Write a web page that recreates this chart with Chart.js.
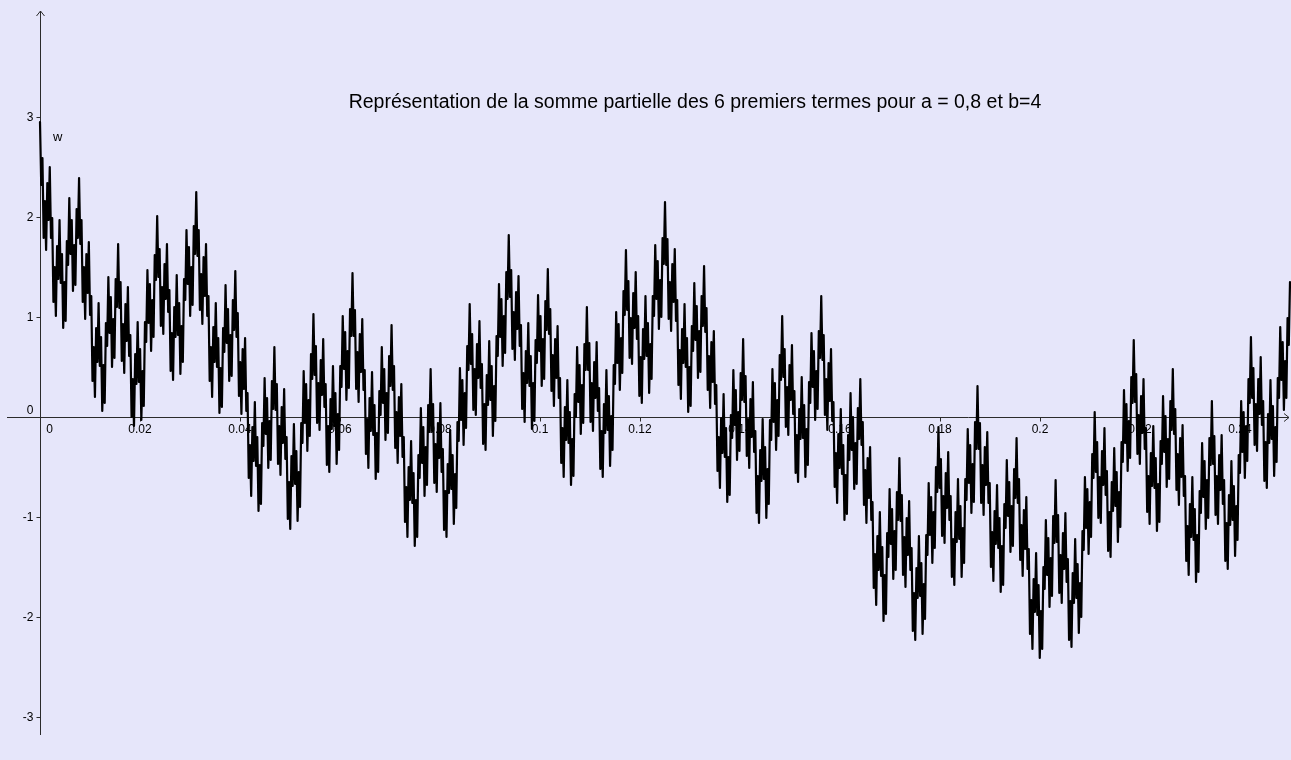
<!DOCTYPE html>
<html lang="fr">
<head>
<meta charset="utf-8">
<title>Somme partielle de la fonction de Weierstrass</title>
<script src="https://cdn.jsdelivr.net/npm/chart.js@4.4.1/dist/chart.umd.min.js"></script>
<style>
  html, body { margin: 0; padding: 0; background: #e6e6fa; overflow: hidden; }
  #wrap { width: 1291px; height: 760px; }
  canvas { display: block; }
</style>
</head>
<body>
<div id="wrap"><canvas id="plot" width="1291" height="760"></canvas></div>
<script>
// Partial sum w(x), sampled every 1/4096 on [0 ; 0.25], split in eight pieces of 128 samples.
const SAMPLE_START = 0;
const SAMPLE_STEP = 1 / 4096;

const wPart1 = [
  2.95,2.32,2.59,1.79,2.16,1.67,2.34,1.97,2.50,1.79,1.99,1.15,1.50,1.01,1.71,1.38,
  1.97,1.34,1.63,.89,1.35,.96,1.76,1.52,2.19,1.63,1.97,1.26,1.72,1.32,2.08,1.79,
  2.39,1.73,1.97,1.15,1.50,.98,1.63,1.24,1.75,1.02,1.21,.36,.70,.20,.89,.55,
  1.14,.51,.80,.06,.52,.14,.94,.71,1.40,.84,1.20,.50,.98,.59,1.38,1.10,
  1.73,1.09,1.35,.56,.93,.44,1.13,.76,1.30,.61,.82,.00,.38,-.09,.63,.33,
  .95,.35,.68,-.03,.46,.11,.95,.75,1.47,.94,1.33,.66,1.17,.80,1.62,1.37,
  2.01,1.40,1.68,.91,1.30,.83,1.53,1.18,1.73,1.05,1.27,.46,.84,.37,1.10,.80,
  1.42,.82,1.14,.43,.91,.55,1.38,1.17,1.87,1.33,1.70,1.01,1.50,1.12,1.91,1.63
];
const wPart2 = [
  2.25,1.61,1.87,1.07,1.43,.93,1.60,1.21,1.73,1.01,1.21,.36,.70,.20,.90,.55,
  1.14,.50,.79,.04,.49,.10,.89,.65,1.32,.74,1.08,.36,.82,.41,1.17,.87,
  1.46,.80,1.04,.21,.55,.03,.68,.28,.79,.06,.24,-.61,-.28,-.79,-.10,-.44,
  .15,-.49,-.20,-.94,-.48,-.87,-.06,-.29,.39,-.17,.19,-.51,-.04,-.43,.36,.08,
  .70,.07,.33,-.47,-.09,-.58,.10,-.26,.28,-.42,-.20,-1.02,-.65,-1.12,-.39,-.69,
  -.07,-.67,-.34,-1.04,-.55,-.90,-.06,-.26,.46,-.06,.33,-.34,.17,-.19,.63,.38,
  1.03,.42,.71,-.06,.34,-.13,.57,.22,.78,.10,.33,-.48,-.09,-.55,.18,-.12,
  .51,-.09,.24,-.47,.03,-.33,.51,.30,1.01,.48,.85,.17,.66,.29,1.08,.81
];
const wPart3 = [
  1.44,.81,1.07,.28,.65,.15,.83,.45,.98,.27,.47,-.37,-.02,-.51,.19,-.14,
  .45,-.18,.12,-.62,-.16,-.55,.26,.02,.70,.14,.48,-.23,.24,-.16,.61,.31,
  .92,.27,.51,-.31,.05,-.46,.20,-.19,.33,-.40,-.20,-1.05,-.70,-1.20,-.50,-.83,
  -.24,-.86,-.56,-1.29,-.83,-1.20,-.38,-.61,.09,-.46,-.10,-.79,-.30,-.68,.12,-.15,
  .48,-.14,.13,-.66,-.27,-.75,-.06,-.41,.14,-.55,-.32,-1.13,-.74,-1.20,-.47,-.76,
  -.13,-.72,-.38,-1.07,-.57,-.91,-.05,-.24,.49,-.03,.37,-.28,.24,-.11,.71,.47,
  1.13,.53,.83,.07,.48,.02,.73,.39,.96,.29,.53,-.27,.13,-.33,.42,.12,
  .76,.17,.51,-.19,.31,-.04,.81,.61,1.33,.80,1.18,.51,1.01,.64,1.45,1.18
];
const wPart4 = [
  1.82,1.20,1.47,.68,1.05,.57,1.25,.88,1.41,.71,.92,.08,.44,-.05,.66,.34,
  .94,.31,.61,-.12,.34,-.04,.77,.54,1.22,.66,1.01,.31,.78,.38,1.16,.87,
  1.48,.83,1.08,.26,.62,.11,.78,.39,.91,.19,.39,-.46,-.11,-.60,.10,-.23,
  .37,-.26,.05,-.68,-.22,-.59,.23,.00,.70,.15,.52,-.17,.32,-.06,.73,.47,
  1.10,.47,.74,-.05,.34,-.14,.55,.19,.75,.06,.29,-.52,-.14,-.60,.13,-.16,
  .47,-.13,.21,-.49,.01,-.33,.52,.33,1.05,.54,.93,.27,.79,.44,1.26,1.02,
  1.67,1.07,1.36,.59,.99,.53,1.24,.89,1.45,.78,1.01,.21,.60,.14,.88,.58,
  1.21,.61,.94,.24,.73,.38,1.21,1.01,1.72,1.18,1.56,.88,1.37,1.00,1.79,1.53
];
const wPart5 = [
  2.15,1.52,1.78,.98,1.35,.86,1.53,1.15,1.68,.96,1.17,.32,.67,.18,.88,.54,
  1.13,.50,.79,.05,.50,.11,.91,.66,1.34,.77,1.11,.39,.86,.45,1.21,.91,
  1.51,.85,1.09,.27,.61,.09,.75,.35,.86,.13,.32,-.54,-.20,-.71,-.01,-.36,
  .23,-.40,-.11,-.85,-.40,-.78,.02,-.21,.47,-.08,.27,-.43,.05,-.34,.44,.17,
  .78,.15,.41,-.39,-.02,-.51,.18,-.20,.35,-.35,-.14,-.96,-.59,-1.06,-.33,-.64,
  -.02,-.62,-.30,-1.01,-.52,-.87,-.03,-.23,.48,-.05,.34,-.33,.17,-.19,.62,.37,
  1.01,.40,.68,-.10,.30,-.18,.52,.17,.72,.03,.26,-.56,-.18,-.65,.08,-.22,
  .40,-.21,.12,-.60,-.12,-.48,.35,.14,.84,.30,.66,-.03,.46,.08,.86,.59
];
const wPart6 = [
  1.21,.57,.82,.02,.38,-.13,.54,.16,.68,-.04,.15,-.70,-.36,-.86,-.17,-.51,
  .08,-.57,-.28,-1.03,-.58,-.97,-.18,-.43,.24,-.33,.00,-.72,-.26,-.67,.09,-.22,
  .38,-.28,-.05,-.88,-.53,-1.06,-.41,-.81,-.30,-1.03,-.85,-1.71,-1.37,-1.88,-1.19,-1.53,
  -.95,-1.59,-1.30,-2.04,-1.58,-1.97,-1.16,-1.40,-.72,-1.27,-.92,-1.62,-1.14,-1.53,-.75,-1.03,
  -.41,-1.04,-.78,-1.58,-1.20,-1.70,-1.01,-1.38,-.84,-1.53,-1.31,-2.14,-1.76,-2.23,-1.51,-1.81,
  -1.19,-1.79,-1.46,-2.17,-1.67,-2.02,-1.18,-1.38,-.66,-1.18,-.80,-1.46,-.95,-1.31,-.50,-.75,
  -.10,-.71,-.42,-1.19,-.79,-1.26,-.56,-.91,-.35,-1.03,-.79,-1.60,-1.22,-1.68,-.95,-1.25,
  -.62,-1.22,-.89,-1.60,-1.11,-1.46,-.62,-.83,-.12,-.66,-.28,-.96,-.47,-.85,-.05,-.32
];
const wPart7 = [
  .31,-.32,-.06,-.86,-.48,-.98,-.30,-.68,-.15,-.86,-.66,-1.50,-1.15,-1.64,-.94,-1.27,
  -.68,-1.31,-1.01,-1.75,-1.29,-1.68,-.87,-1.11,-.43,-.99,-.65,-1.35,-.89,-1.29,-.52,-.81,
  -.21,-.86,-.62,-1.43,-1.08,-1.59,-.93,-1.32,-.80,-1.52,-1.32,-2.17,-1.83,-2.32,-1.62,-1.95,
  -1.36,-1.98,-1.68,-2.41,-1.94,-2.32,-1.50,-1.72,-1.03,-1.58,-1.21,-1.90,-1.41,-1.79,-.99,-1.26,
  -.63,-1.25,-.98,-1.76,-1.38,-1.86,-1.16,-1.52,-.96,-1.65,-1.42,-2.23,-1.84,-2.30,-1.56,-1.86,
  -1.22,-1.81,-1.47,-2.16,-1.66,-2.00,-1.14,-1.33,-.60,-1.11,-.72,-1.37,-.85,-1.20,-.37,-.61,
  .05,-.55,-.25,-1.01,-.60,-1.06,-.34,-.68,-.11,-.78,-.54,-1.34,-.95,-1.40,-.65,-.94,
  -.31,-.89,-.55,-1.25,-.75,-1.10,-.25,-.45,.27,-.26,.13,-.54,-.04,-.41,.40,.14
];
const wPart8 = [
  .77,.15,.43,-.37,.02,-.47,.21,-.16,.38,-.32,-.11,-.95,-.59,-1.07,-.36,-.69,
  -.09,-.71,-.41,-1.14,-.67,-1.05,-.24,-.47,.21,-.35,.01,-.70,-.22,-.62,.16,-.13,
  .48,-.17,.08,-.73,-.37,-.88,-.21,-.60,-.08,-.79,-.59,-1.44,-1.09,-1.58,-.87,-1.20,
  -.60,-1.23,-.92,-1.65,-1.18,-1.55,-.74,-.96,-.26,-.80,-.44,-1.12,-.63,-1.01,-.21,-.48,
  .16,-.47,-.19,-.98,-.59,-1.07,-.38,-.73,-.18,-.87,-.63,-1.44,-1.06,-1.52,-.78,-1.08,
  -.44,-1.03,-.69,-1.39,-.89,-1.23,-.38,-.56,.16,-.35,.05,-.61,-.09,-.44,.38,.14,
  .80,.19,.49,-.28,.13,-.34,.38,.03,.60,-.08,.16,-.64,-.25,-.71,.03,-.26,
  .37,-.22,.11,-.59,-.10,-.45,.39,.19,.90,.37,.75,.07,.56,.19,.99,.72,
  1.35
];

// Axis ticks and their labels
const xTicks = [0.02, 0.04, 0.06, 0.08, 0.1, 0.12, 0.14, 0.16, 0.18, 0.2, 0.22, 0.24];
const xTickLabels = ['0.02', '0.04', '0.06', '0.08', '0.1', '0.12', '0.14', '0.16', '0.18', '0.2', '0.22', '0.24'];
const yTicks = [-3, -2, -1, 1, 2, 3];
const yTickLabels = ['-3', '-2', '-1', '1', '2', '3'];

const TITLE = 'Représentation de la somme partielle des 6 premiers termes pour a = 0,8 et b=4';
const CURVE_NAME = 'w';

// Visible window of the drawing
const X_MIN = -0.008, X_MAX = 0.2502;
const Y_MIN = -3.43, Y_MAX = 4.17;

const wValues = [].concat(wPart1, wPart2, wPart3, wPart4, wPart5, wPart6, wPart7, wPart8);
const wPoints = wValues.map((v, i) => ({ x: SAMPLE_START + i * SAMPLE_STEP, y: v }));

const FONT = '"Liberation Sans", Arial, "DejaVu Sans", sans-serif';
const AXIS_COLOR = '#2b2b2b';

const background = {
  id: 'background',
  beforeDraw(chart) {
    const c = chart.ctx;
    c.save();
    c.fillStyle = '#e6e6fa';
    c.fillRect(0, 0, chart.width, chart.height);
    c.restore();
  }
};

// Axes through the origin, with arrows, ticks and labels, drawn under the curve
const originAxes = {
  id: 'originAxes',
  beforeDatasetsDraw(chart) {
    const c = chart.ctx;
    const sx = chart.scales.x, sy = chart.scales.y;
    const ox = Math.round(sx.getPixelForValue(0)) + 0.5;
    const oy = Math.round(sy.getPixelForValue(0)) + 0.5;
    c.save();
    c.strokeStyle = AXIS_COLOR;
    c.lineWidth = 1;

    // x axis
    c.beginPath();
    c.moveTo(7, oy);
    c.lineTo(chart.width - 2, oy);
    c.moveTo(chart.width - 7, oy - 4);
    c.lineTo(chart.width - 2, oy);
    c.lineTo(chart.width - 7, oy + 4);
    // y axis
    c.moveTo(ox, 735);
    c.lineTo(ox, 11);
    c.moveTo(ox - 4, 16);
    c.lineTo(ox, 11);
    c.lineTo(ox + 4, 16);
    c.stroke();

    // tick marks
    c.beginPath();
    xTicks.forEach(v => {
      const px = Math.round(sx.getPixelForValue(v)) + 0.5;
      c.moveTo(px, oy);
      c.lineTo(px, oy + 4);
    });
    yTicks.forEach(v => {
      const py = Math.round(sy.getPixelForValue(v)) + 0.5;
      c.moveTo(ox - 4, py);
      c.lineTo(ox, py);
    });
    c.stroke();

    // tick labels
    c.fillStyle = '#000';
    c.font = '12px ' + FONT;
    c.textAlign = 'center';
    c.textBaseline = 'top';
    xTicks.forEach((v, i) => {
      c.fillText(xTickLabels[i], sx.getPixelForValue(v), oy + 6);
    });
    c.fillText('0', ox + 9, oy + 6);
    c.textAlign = 'right';
    c.textBaseline = 'middle';
    yTicks.forEach((v, i) => {
      c.fillText(yTickLabels[i], ox - 7, sy.getPixelForValue(v) + 1);
    });
    c.fillText('0', ox - 7, oy - 7);

    // curve name and title
    c.textAlign = 'left';
    c.font = '13px ' + FONT;
    c.fillText(CURVE_NAME, 53, 137);
    c.font = '19.5px ' + FONT;
    c.textAlign = 'center';
    c.fillText(TITLE, 695, 103);
    c.restore();
  }
};

new Chart(document.getElementById('plot'), {
  type: 'line',
  data: {
    datasets: [{
      label: CURVE_NAME,
      data: wPoints,
      borderColor: '#000000',
      borderWidth: 2.2,
      borderJoinStyle: 'round',
      borderCapStyle: 'round',
      pointRadius: 0,
      pointHoverRadius: 0,
      tension: 0,
      fill: false
    }]
  },
  options: {
    responsive: false,
    animation: false,
    devicePixelRatio: 1,
    events: [],
    layout: { padding: 0 },
    scales: {
      x: { type: 'linear', min: X_MIN, max: X_MAX, display: false },
      y: { type: 'linear', min: Y_MIN, max: Y_MAX, display: false }
    },
    plugins: {
      legend: { display: false },
      tooltip: { enabled: false },
      title: { display: false }
    }
  },
  plugins: [background, originAxes]
});
</script>
</body>
</html>
